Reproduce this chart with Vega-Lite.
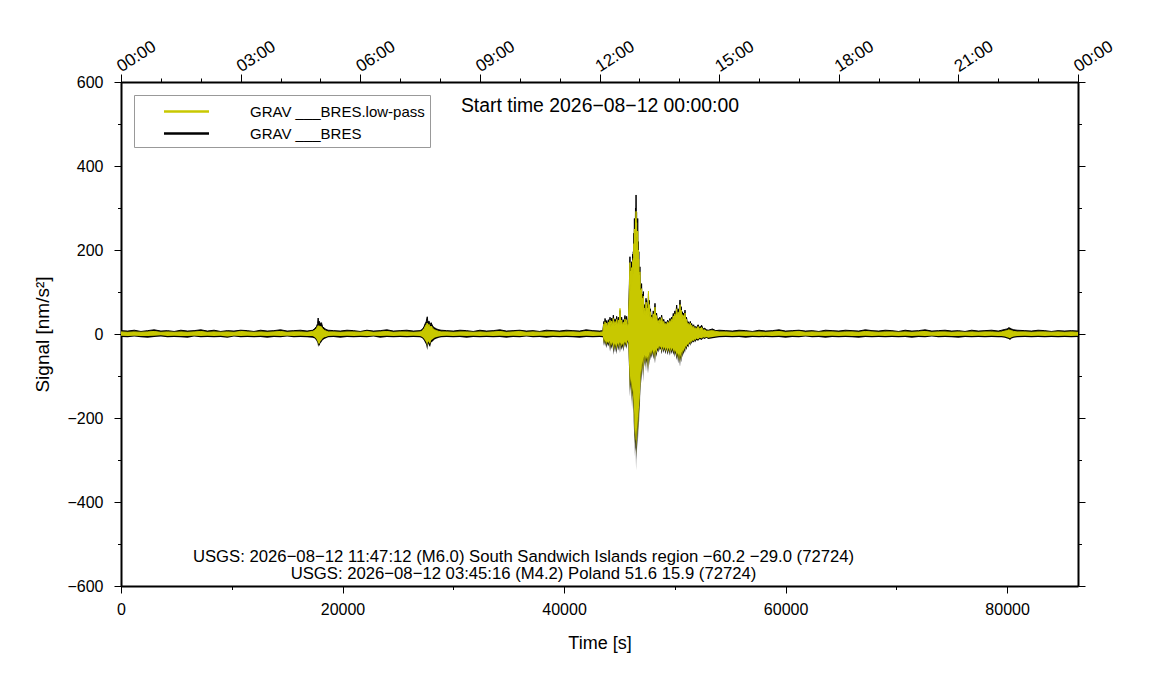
{
  "$schema": "https://vega.github.io/schema/vega-lite/v6.json",
  "width": 957,
  "height": 504,
  "autosize": {"type": "none"},
  "padding": {"left": 121, "top": 82, "right": 73, "bottom": 114},
  "data": {
    "values": [
      {"t": 0, "hi": 8, "lo": -7, "lphi": 5, "lplo": -4},
      {"t": 600, "hi": 7, "lo": -8, "lphi": 4, "lplo": -5},
      {"t": 1200, "hi": 9, "lo": -6, "lphi": 5, "lplo": -4},
      {"t": 1800, "hi": 6, "lo": -8, "lphi": 4, "lplo": -5},
      {"t": 2400, "hi": 8, "lo": -9, "lphi": 5, "lplo": -5},
      {"t": 3000, "hi": 10, "lo": -7, "lphi": 6, "lplo": -4},
      {"t": 3600, "hi": 7, "lo": -6, "lphi": 4, "lplo": -3},
      {"t": 4200, "hi": 8, "lo": -8, "lphi": 5, "lplo": -5},
      {"t": 4800, "hi": 6, "lo": -7, "lphi": 4, "lplo": -4},
      {"t": 5400, "hi": 9, "lo": -8, "lphi": 5, "lplo": -5},
      {"t": 6000, "hi": 7, "lo": -9, "lphi": 4, "lplo": -5},
      {"t": 6600, "hi": 8, "lo": -6, "lphi": 5, "lplo": -4},
      {"t": 7200, "hi": 10, "lo": -8, "lphi": 6, "lplo": -5},
      {"t": 7800, "hi": 7, "lo": -7, "lphi": 4, "lplo": -4},
      {"t": 8400, "hi": 9, "lo": -8, "lphi": 5, "lplo": -5},
      {"t": 9000, "hi": 6, "lo": -7, "lphi": 4, "lplo": -4},
      {"t": 9600, "hi": 8, "lo": -9, "lphi": 5, "lplo": -6},
      {"t": 10200, "hi": 7, "lo": -6, "lphi": 4, "lplo": -4},
      {"t": 10800, "hi": 9, "lo": -8, "lphi": 6, "lplo": -5},
      {"t": 11400, "hi": 8, "lo": -7, "lphi": 5, "lplo": -4},
      {"t": 12000, "hi": 6, "lo": -8, "lphi": 4, "lplo": -5},
      {"t": 12600, "hi": 9, "lo": -7, "lphi": 5, "lplo": -4},
      {"t": 13200, "hi": 7, "lo": -9, "lphi": 4, "lplo": -5},
      {"t": 13800, "hi": 8, "lo": -7, "lphi": 5, "lplo": -4},
      {"t": 14400, "hi": 10, "lo": -8, "lphi": 6, "lplo": -5},
      {"t": 15000, "hi": 7, "lo": -6, "lphi": 4, "lplo": -4},
      {"t": 15600, "hi": 8, "lo": -8, "lphi": 5, "lplo": -5},
      {"t": 16200, "hi": 9, "lo": -7, "lphi": 5, "lplo": -4},
      {"t": 16800, "hi": 7, "lo": -8, "lphi": 4, "lplo": -5},
      {"t": 17300, "hi": 9, "lo": -9, "lphi": 6, "lplo": -5},
      {"t": 17500, "hi": 13, "lo": -11, "lphi": 9, "lplo": -8},
      {"t": 17650, "hi": 18, "lo": -16, "lphi": 13, "lplo": -12},
      {"t": 17750, "hi": 25, "lo": -22, "lphi": 18, "lplo": -18},
      {"t": 17800, "hi": 38, "lo": -31, "lphi": 20, "lplo": -26},
      {"t": 17850, "hi": 22, "lo": -26, "lphi": 16, "lplo": -20},
      {"t": 17920, "hi": 30, "lo": -28, "lphi": 19, "lplo": -24},
      {"t": 18000, "hi": 24, "lo": -22, "lphi": 18, "lplo": -17},
      {"t": 18100, "hi": 27, "lo": -19, "lphi": 17, "lplo": -14},
      {"t": 18200, "hi": 17, "lo": -15, "lphi": 12, "lplo": -11},
      {"t": 18350, "hi": 14, "lo": -12, "lphi": 9, "lplo": -8},
      {"t": 18500, "hi": 11, "lo": -10, "lphi": 7, "lplo": -7},
      {"t": 18700, "hi": 9, "lo": -8, "lphi": 5, "lplo": -5},
      {"t": 19200, "hi": 8, "lo": -7, "lphi": 5, "lplo": -4},
      {"t": 19800, "hi": 7, "lo": -9, "lphi": 4, "lplo": -5},
      {"t": 20400, "hi": 9, "lo": -7, "lphi": 5, "lplo": -4},
      {"t": 21000, "hi": 8, "lo": -8, "lphi": 5, "lplo": -5},
      {"t": 21600, "hi": 6, "lo": -7, "lphi": 4, "lplo": -4},
      {"t": 22200, "hi": 9, "lo": -8, "lphi": 6, "lplo": -5},
      {"t": 22800, "hi": 7, "lo": -6, "lphi": 4, "lplo": -4},
      {"t": 23400, "hi": 8, "lo": -9, "lphi": 5, "lplo": -5},
      {"t": 24000, "hi": 10, "lo": -7, "lphi": 6, "lplo": -4},
      {"t": 24600, "hi": 7, "lo": -8, "lphi": 4, "lplo": -5},
      {"t": 25200, "hi": 8, "lo": -7, "lphi": 5, "lplo": -4},
      {"t": 25800, "hi": 9, "lo": -8, "lphi": 5, "lplo": -5},
      {"t": 26400, "hi": 7, "lo": -7, "lphi": 4, "lplo": -4},
      {"t": 27000, "hi": 8, "lo": -8, "lphi": 5, "lplo": -5},
      {"t": 27200, "hi": 11, "lo": -10, "lphi": 7, "lplo": -7},
      {"t": 27350, "hi": 17, "lo": -15, "lphi": 12, "lplo": -11},
      {"t": 27450, "hi": 24, "lo": -20, "lphi": 17, "lplo": -15},
      {"t": 27550, "hi": 29, "lo": -25, "lphi": 22, "lplo": -19},
      {"t": 27650, "hi": 41, "lo": -38, "lphi": 26, "lplo": -28},
      {"t": 27720, "hi": 24, "lo": -22, "lphi": 18, "lplo": -17},
      {"t": 27800, "hi": 31, "lo": -27, "lphi": 23, "lplo": -20},
      {"t": 27900, "hi": 22, "lo": -31, "lphi": 16, "lplo": -24},
      {"t": 28000, "hi": 27, "lo": -20, "lphi": 19, "lplo": -15},
      {"t": 28150, "hi": 18, "lo": -17, "lphi": 13, "lplo": -12},
      {"t": 28300, "hi": 15, "lo": -13, "lphi": 10, "lplo": -9},
      {"t": 28500, "hi": 12, "lo": -11, "lphi": 8, "lplo": -7},
      {"t": 28700, "hi": 10, "lo": -9, "lphi": 6, "lplo": -6},
      {"t": 28900, "hi": 9, "lo": -8, "lphi": 5, "lplo": -5},
      {"t": 29400, "hi": 8, "lo": -7, "lphi": 5, "lplo": -4},
      {"t": 30000, "hi": 7, "lo": -8, "lphi": 4, "lplo": -5},
      {"t": 30600, "hi": 9, "lo": -7, "lphi": 5, "lplo": -4},
      {"t": 31200, "hi": 8, "lo": -9, "lphi": 5, "lplo": -5},
      {"t": 31800, "hi": 6, "lo": -7, "lphi": 4, "lplo": -4},
      {"t": 32400, "hi": 9, "lo": -8, "lphi": 5, "lplo": -5},
      {"t": 33000, "hi": 7, "lo": -7, "lphi": 4, "lplo": -4},
      {"t": 33600, "hi": 8, "lo": -8, "lphi": 5, "lplo": -5},
      {"t": 34200, "hi": 10, "lo": -7, "lphi": 6, "lplo": -4},
      {"t": 34800, "hi": 7, "lo": -9, "lphi": 4, "lplo": -5},
      {"t": 35400, "hi": 8, "lo": -7, "lphi": 5, "lplo": -4},
      {"t": 36000, "hi": 9, "lo": -8, "lphi": 6, "lplo": -5},
      {"t": 36600, "hi": 7, "lo": -6, "lphi": 4, "lplo": -4},
      {"t": 37200, "hi": 8, "lo": -8, "lphi": 5, "lplo": -5},
      {"t": 37800, "hi": 6, "lo": -7, "lphi": 4, "lplo": -4},
      {"t": 38400, "hi": 9, "lo": -9, "lphi": 5, "lplo": -5},
      {"t": 39000, "hi": 8, "lo": -7, "lphi": 5, "lplo": -4},
      {"t": 39600, "hi": 7, "lo": -8, "lphi": 4, "lplo": -5},
      {"t": 40200, "hi": 9, "lo": -7, "lphi": 5, "lplo": -4},
      {"t": 40800, "hi": 8, "lo": -8, "lphi": 5, "lplo": -5},
      {"t": 41400, "hi": 7, "lo": -9, "lphi": 4, "lplo": -5},
      {"t": 42000, "hi": 10, "lo": -7, "lphi": 6, "lplo": -4},
      {"t": 42600, "hi": 8, "lo": -8, "lphi": 5, "lplo": -5},
      {"t": 43200, "hi": 7, "lo": -7, "lphi": 4, "lplo": -4},
      {"t": 43500, "hi": 8, "lo": -8, "lphi": 5, "lplo": -5},
      {"t": 43600, "hi": 30, "lo": -28, "lphi": 24, "lplo": -22},
      {"t": 43650, "hi": 18, "lo": -16, "lphi": 14, "lplo": -12},
      {"t": 43700, "hi": 37, "lo": -30, "lphi": 29, "lplo": -25},
      {"t": 43780, "hi": 22, "lo": -20, "lphi": 17, "lplo": -16},
      {"t": 43850, "hi": 32, "lo": -34, "lphi": 26, "lplo": -27},
      {"t": 43920, "hi": 20, "lo": -22, "lphi": 16, "lplo": -18},
      {"t": 44000, "hi": 34, "lo": -30, "lphi": 28, "lplo": -24},
      {"t": 44080, "hi": 24, "lo": -20, "lphi": 19, "lplo": -16},
      {"t": 44150, "hi": 40, "lo": -42, "lphi": 33, "lplo": -34},
      {"t": 44230, "hi": 22, "lo": -26, "lphi": 18, "lplo": -20},
      {"t": 44300, "hi": 38, "lo": -36, "lphi": 31, "lplo": -29},
      {"t": 44380, "hi": 26, "lo": -24, "lphi": 20, "lplo": -19},
      {"t": 44450, "hi": 45, "lo": -50, "lphi": 37, "lplo": -41},
      {"t": 44520, "hi": 24, "lo": -28, "lphi": 19, "lplo": -22},
      {"t": 44600, "hi": 36, "lo": -44, "lphi": 30, "lplo": -36},
      {"t": 44680, "hi": 26, "lo": -30, "lphi": 21, "lplo": -24},
      {"t": 44750, "hi": 42, "lo": -48, "lphi": 35, "lplo": -40},
      {"t": 44830, "hi": 24, "lo": -26, "lphi": 19, "lplo": -21},
      {"t": 44900, "hi": 40, "lo": -40, "lphi": 33, "lplo": -33},
      {"t": 44980, "hi": 28, "lo": -24, "lphi": 22, "lplo": -19},
      {"t": 45050, "hi": 56, "lo": -45, "lphi": 61, "lplo": -38},
      {"t": 45120, "hi": 26, "lo": -25, "lphi": 21, "lplo": -20},
      {"t": 45200, "hi": 40, "lo": -38, "lphi": 33, "lplo": -31},
      {"t": 45280, "hi": 24, "lo": -28, "lphi": 19, "lplo": -22},
      {"t": 45350, "hi": 34, "lo": -42, "lphi": 28, "lplo": -35},
      {"t": 45420, "hi": 28, "lo": -22, "lphi": 22, "lplo": -18},
      {"t": 45500, "hi": 44, "lo": -33, "lphi": 36, "lplo": -27},
      {"t": 45580, "hi": 26, "lo": -24, "lphi": 21, "lplo": -19},
      {"t": 45650, "hi": 42, "lo": -36, "lphi": 34, "lplo": -30},
      {"t": 45730, "hi": 20, "lo": -18, "lphi": 16, "lplo": -14},
      {"t": 45800, "hi": 30, "lo": -25, "lphi": 25, "lplo": -20},
      {"t": 45900, "hi": 120, "lo": -110, "lphi": 105, "lplo": -95},
      {"t": 45950, "hi": 184, "lo": -149, "lphi": 170, "lplo": -135},
      {"t": 45975, "hi": 130, "lo": -110, "lphi": 118, "lplo": -100},
      {"t": 46000, "hi": 160, "lo": -135, "lphi": 150, "lplo": -120},
      {"t": 46025, "hi": 110, "lo": -120, "lphi": 100, "lplo": -108},
      {"t": 46050, "hi": 150, "lo": -160, "lphi": 138, "lplo": -145},
      {"t": 46075, "hi": 120, "lo": -125, "lphi": 110, "lplo": -112},
      {"t": 46100, "hi": 172, "lo": -173, "lphi": 158, "lplo": -160},
      {"t": 46125, "hi": 125, "lo": -120, "lphi": 114, "lplo": -110},
      {"t": 46150, "hi": 150, "lo": -150, "lphi": 140, "lplo": -138},
      {"t": 46175, "hi": 135, "lo": -140, "lphi": 124, "lplo": -128},
      {"t": 46200, "hi": 190, "lo": -180, "lphi": 175, "lplo": -165},
      {"t": 46225, "hi": 150, "lo": -145, "lphi": 138, "lplo": -132},
      {"t": 46250, "hi": 196, "lo": -189, "lphi": 180, "lplo": -172},
      {"t": 46275, "hi": 170, "lo": -160, "lphi": 155, "lplo": -148},
      {"t": 46300, "hi": 240, "lo": -230, "lphi": 215, "lplo": -210},
      {"t": 46325, "hi": 200, "lo": -195, "lphi": 185, "lplo": -180},
      {"t": 46350, "hi": 275, "lo": -260, "lphi": 250, "lplo": -240},
      {"t": 46375, "hi": 215, "lo": -240, "lphi": 200, "lplo": -220},
      {"t": 46400, "hi": 250, "lo": -292, "lphi": 235, "lplo": -265},
      {"t": 46425, "hi": 230, "lo": -245, "lphi": 215, "lplo": -228},
      {"t": 46450, "hi": 300, "lo": -280, "lphi": 275, "lplo": -255},
      {"t": 46475, "hi": 260, "lo": -270, "lphi": 240, "lplo": -250},
      {"t": 46500, "hi": 331, "lo": -324, "lphi": 292, "lplo": -290},
      {"t": 46525, "hi": 250, "lo": -270, "lphi": 232, "lplo": -250},
      {"t": 46550, "hi": 290, "lo": -300, "lphi": 265, "lplo": -270},
      {"t": 46575, "hi": 220, "lo": -240, "lphi": 205, "lplo": -222},
      {"t": 46600, "hi": 240, "lo": -270, "lphi": 222, "lplo": -250},
      {"t": 46625, "hi": 205, "lo": -220, "lphi": 190, "lplo": -205},
      {"t": 46650, "hi": 275, "lo": -276, "lphi": 245, "lplo": -240},
      {"t": 46675, "hi": 190, "lo": -210, "lphi": 176, "lplo": -195},
      {"t": 46700, "hi": 220, "lo": -250, "lphi": 200, "lplo": -230},
      {"t": 46725, "hi": 160, "lo": -190, "lphi": 148, "lplo": -175},
      {"t": 46750, "hi": 196, "lo": -230, "lphi": 178, "lplo": -205},
      {"t": 46775, "hi": 140, "lo": -165, "lphi": 130, "lplo": -152},
      {"t": 46800, "hi": 150, "lo": -213, "lphi": 140, "lplo": -190},
      {"t": 46825, "hi": 120, "lo": -150, "lphi": 110, "lplo": -138},
      {"t": 46850, "hi": 160, "lo": -190, "lphi": 148, "lplo": -170},
      {"t": 46875, "hi": 100, "lo": -120, "lphi": 92, "lplo": -110},
      {"t": 46900, "hi": 117, "lo": -150, "lphi": 105, "lplo": -135},
      {"t": 46925, "hi": 85, "lo": -95, "lphi": 78, "lplo": -87},
      {"t": 46950, "hi": 110, "lo": -117, "lphi": 98, "lplo": -105},
      {"t": 46975, "hi": 80, "lo": -90, "lphi": 72, "lplo": -82},
      {"t": 47000, "hi": 120, "lo": -117, "lphi": 108, "lplo": -100},
      {"t": 47040, "hi": 70, "lo": -75, "lphi": 62, "lplo": -66},
      {"t": 47080, "hi": 95, "lo": -100, "lphi": 85, "lplo": -90},
      {"t": 47120, "hi": 65, "lo": -70, "lphi": 57, "lplo": -62},
      {"t": 47160, "hi": 101, "lo": -115, "lphi": 90, "lplo": -98},
      {"t": 47200, "hi": 55, "lo": -60, "lphi": 48, "lplo": -53},
      {"t": 47240, "hi": 70, "lo": -78, "lphi": 62, "lplo": -70},
      {"t": 47280, "hi": 50, "lo": -55, "lphi": 44, "lplo": -48},
      {"t": 47310, "hi": 61, "lo": -80, "lphi": 55, "lplo": -70},
      {"t": 47350, "hi": 48, "lo": -58, "lphi": 42, "lplo": -51},
      {"t": 47400, "hi": 85, "lo": -90, "lphi": 76, "lplo": -80},
      {"t": 47430, "hi": 55, "lo": -60, "lphi": 48, "lplo": -52},
      {"t": 47460, "hi": 80, "lo": -70, "lphi": 72, "lplo": -62},
      {"t": 47500, "hi": 50, "lo": -62, "lphi": 44, "lplo": -54},
      {"t": 47550, "hi": 70, "lo": -94, "lphi": 62, "lplo": -82},
      {"t": 47580, "hi": 52, "lo": -58, "lphi": 46, "lplo": -51},
      {"t": 47620, "hi": 96, "lo": -94, "lphi": 102, "lplo": -84},
      {"t": 47660, "hi": 55, "lo": -56, "lphi": 48, "lplo": -49},
      {"t": 47700, "hi": 80, "lo": -75, "lphi": 70, "lplo": -66},
      {"t": 47750, "hi": 45, "lo": -48, "lphi": 40, "lplo": -42},
      {"t": 47800, "hi": 60, "lo": -63, "lphi": 53, "lplo": -56},
      {"t": 47850, "hi": 40, "lo": -45, "lphi": 35, "lplo": -40},
      {"t": 47910, "hi": 45, "lo": -58, "lphi": 40, "lplo": -52},
      {"t": 47980, "hi": 35, "lo": -42, "lphi": 31, "lplo": -37},
      {"t": 48050, "hi": 55, "lo": -60, "lphi": 48, "lplo": -53},
      {"t": 48130, "hi": 40, "lo": -45, "lphi": 35, "lplo": -40},
      {"t": 48210, "hi": 73, "lo": -70, "lphi": 64, "lplo": -62},
      {"t": 48280, "hi": 38, "lo": -42, "lphi": 33, "lplo": -37},
      {"t": 48350, "hi": 50, "lo": -55, "lphi": 44, "lplo": -48},
      {"t": 48430, "hi": 32, "lo": -38, "lphi": 28, "lplo": -33},
      {"t": 48510, "hi": 37, "lo": -44, "lphi": 32, "lplo": -38},
      {"t": 48580, "hi": 28, "lo": -32, "lphi": 25, "lplo": -28},
      {"t": 48650, "hi": 40, "lo": -40, "lphi": 35, "lplo": -35},
      {"t": 48730, "hi": 30, "lo": -34, "lphi": 26, "lplo": -30},
      {"t": 48810, "hi": 45, "lo": -48, "lphi": 39, "lplo": -42},
      {"t": 48900, "hi": 28, "lo": -34, "lphi": 25, "lplo": -30},
      {"t": 49000, "hi": 35, "lo": -45, "lphi": 30, "lplo": -40},
      {"t": 49080, "hi": 24, "lo": -36, "lphi": 21, "lplo": -31},
      {"t": 49170, "hi": 29, "lo": -48, "lphi": 25, "lplo": -42},
      {"t": 49260, "hi": 25, "lo": -36, "lphi": 22, "lplo": -32},
      {"t": 49350, "hi": 33, "lo": -50, "lphi": 29, "lplo": -44},
      {"t": 49450, "hi": 27, "lo": -38, "lphi": 24, "lplo": -33},
      {"t": 49560, "hi": 37, "lo": -52, "lphi": 32, "lplo": -46},
      {"t": 49630, "hi": 30, "lo": -36, "lphi": 26, "lplo": -32},
      {"t": 49700, "hi": 40, "lo": -48, "lphi": 35, "lplo": -42},
      {"t": 49780, "hi": 34, "lo": -38, "lphi": 30, "lplo": -33},
      {"t": 49860, "hi": 49, "lo": -50, "lphi": 43, "lplo": -44},
      {"t": 49930, "hi": 38, "lo": -42, "lphi": 33, "lplo": -37},
      {"t": 50000, "hi": 55, "lo": -55, "lphi": 48, "lplo": -48},
      {"t": 50080, "hi": 45, "lo": -44, "lphi": 40, "lplo": -39},
      {"t": 50170, "hi": 69, "lo": -62, "lphi": 60, "lplo": -55},
      {"t": 50230, "hi": 48, "lo": -50, "lphi": 42, "lplo": -44},
      {"t": 50300, "hi": 60, "lo": -70, "lphi": 52, "lplo": -62},
      {"t": 50380, "hi": 50, "lo": -52, "lphi": 44, "lplo": -46},
      {"t": 50470, "hi": 81, "lo": -78, "lphi": 70, "lplo": -68},
      {"t": 50520, "hi": 55, "lo": -55, "lphi": 48, "lplo": -48},
      {"t": 50580, "hi": 65, "lo": -68, "lphi": 57, "lplo": -60},
      {"t": 50630, "hi": 45, "lo": -48, "lphi": 40, "lplo": -42},
      {"t": 50680, "hi": 53, "lo": -56, "lphi": 46, "lplo": -49},
      {"t": 50740, "hi": 40, "lo": -42, "lphi": 35, "lplo": -37},
      {"t": 50800, "hi": 50, "lo": -50, "lphi": 44, "lplo": -44},
      {"t": 50860, "hi": 42, "lo": -38, "lphi": 37, "lplo": -33},
      {"t": 50920, "hi": 57, "lo": -45, "lphi": 50, "lplo": -39},
      {"t": 50980, "hi": 35, "lo": -32, "lphi": 30, "lplo": -28},
      {"t": 51050, "hi": 40, "lo": -38, "lphi": 35, "lplo": -33},
      {"t": 51130, "hi": 28, "lo": -28, "lphi": 24, "lplo": -24},
      {"t": 51220, "hi": 29, "lo": -32, "lphi": 25, "lplo": -28},
      {"t": 51300, "hi": 22, "lo": -22, "lphi": 19, "lplo": -19},
      {"t": 51400, "hi": 30, "lo": -28, "lphi": 26, "lplo": -24},
      {"t": 51460, "hi": 20, "lo": -19, "lphi": 17, "lplo": -16},
      {"t": 51520, "hi": 25, "lo": -24, "lphi": 21, "lplo": -20},
      {"t": 51600, "hi": 18, "lo": -18, "lphi": 15, "lplo": -15},
      {"t": 51700, "hi": 22, "lo": -20, "lphi": 18, "lplo": -17},
      {"t": 51760, "hi": 16, "lo": -15, "lphi": 13, "lplo": -12},
      {"t": 51820, "hi": 18, "lo": -20, "lphi": 15, "lplo": -16},
      {"t": 51950, "hi": 15, "lo": -14, "lphi": 12, "lplo": -11},
      {"t": 52100, "hi": 22, "lo": -16, "lphi": 18, "lplo": -13},
      {"t": 52250, "hi": 14, "lo": -12, "lphi": 11, "lplo": -9},
      {"t": 52420, "hi": 21, "lo": -14, "lphi": 16, "lplo": -11},
      {"t": 52550, "hi": 12, "lo": -10, "lphi": 9, "lplo": -8},
      {"t": 52700, "hi": 14, "lo": -12, "lphi": 10, "lplo": -9},
      {"t": 52850, "hi": 10, "lo": -9, "lphi": 7, "lplo": -7},
      {"t": 53020, "hi": 9, "lo": -12, "lphi": 7, "lplo": -9},
      {"t": 53400, "hi": 12, "lo": -10, "lphi": 8, "lplo": -7},
      {"t": 53700, "hi": 8, "lo": -9, "lphi": 6, "lplo": -6},
      {"t": 54000, "hi": 9, "lo": -8, "lphi": 5, "lplo": -5},
      {"t": 54600, "hi": 8, "lo": -7, "lphi": 5, "lplo": -4},
      {"t": 55200, "hi": 7, "lo": -8, "lphi": 4, "lplo": -5},
      {"t": 55800, "hi": 9, "lo": -7, "lphi": 5, "lplo": -4},
      {"t": 56400, "hi": 8, "lo": -9, "lphi": 5, "lplo": -5},
      {"t": 57000, "hi": 6, "lo": -7, "lphi": 4, "lplo": -4},
      {"t": 57600, "hi": 9, "lo": -8, "lphi": 5, "lplo": -5},
      {"t": 58200, "hi": 7, "lo": -7, "lphi": 4, "lplo": -4},
      {"t": 58800, "hi": 8, "lo": -8, "lphi": 5, "lplo": -5},
      {"t": 59400, "hi": 10, "lo": -7, "lphi": 6, "lplo": -4},
      {"t": 60000, "hi": 7, "lo": -9, "lphi": 4, "lplo": -5},
      {"t": 60600, "hi": 8, "lo": -7, "lphi": 5, "lplo": -4},
      {"t": 61200, "hi": 9, "lo": -8, "lphi": 6, "lplo": -5},
      {"t": 61800, "hi": 7, "lo": -6, "lphi": 4, "lplo": -4},
      {"t": 62400, "hi": 8, "lo": -8, "lphi": 5, "lplo": -5},
      {"t": 63000, "hi": 6, "lo": -7, "lphi": 4, "lplo": -4},
      {"t": 63600, "hi": 9, "lo": -9, "lphi": 5, "lplo": -5},
      {"t": 64200, "hi": 8, "lo": -7, "lphi": 5, "lplo": -4},
      {"t": 64800, "hi": 7, "lo": -8, "lphi": 4, "lplo": -5},
      {"t": 65400, "hi": 9, "lo": -7, "lphi": 5, "lplo": -4},
      {"t": 66000, "hi": 8, "lo": -8, "lphi": 5, "lplo": -5},
      {"t": 66600, "hi": 7, "lo": -9, "lphi": 4, "lplo": -5},
      {"t": 67200, "hi": 10, "lo": -7, "lphi": 6, "lplo": -4},
      {"t": 67800, "hi": 8, "lo": -8, "lphi": 5, "lplo": -5},
      {"t": 68400, "hi": 7, "lo": -7, "lphi": 4, "lplo": -4},
      {"t": 69000, "hi": 9, "lo": -8, "lphi": 5, "lplo": -5},
      {"t": 69600, "hi": 8, "lo": -7, "lphi": 5, "lplo": -4},
      {"t": 70200, "hi": 6, "lo": -8, "lphi": 4, "lplo": -5},
      {"t": 70800, "hi": 9, "lo": -7, "lphi": 5, "lplo": -4},
      {"t": 71400, "hi": 7, "lo": -9, "lphi": 4, "lplo": -5},
      {"t": 72000, "hi": 8, "lo": -7, "lphi": 5, "lplo": -4},
      {"t": 72600, "hi": 10, "lo": -8, "lphi": 6, "lplo": -5},
      {"t": 73200, "hi": 7, "lo": -6, "lphi": 4, "lplo": -4},
      {"t": 73800, "hi": 8, "lo": -8, "lphi": 5, "lplo": -5},
      {"t": 74400, "hi": 9, "lo": -7, "lphi": 5, "lplo": -4},
      {"t": 75000, "hi": 7, "lo": -8, "lphi": 4, "lplo": -5},
      {"t": 75600, "hi": 8, "lo": -9, "lphi": 5, "lplo": -5},
      {"t": 76200, "hi": 6, "lo": -7, "lphi": 4, "lplo": -4},
      {"t": 76800, "hi": 9, "lo": -8, "lphi": 5, "lplo": -5},
      {"t": 77400, "hi": 7, "lo": -7, "lphi": 4, "lplo": -4},
      {"t": 78000, "hi": 8, "lo": -8, "lphi": 5, "lplo": -5},
      {"t": 78600, "hi": 9, "lo": -7, "lphi": 5, "lplo": -4},
      {"t": 79200, "hi": 7, "lo": -8, "lphi": 4, "lplo": -5},
      {"t": 79500, "hi": 9, "lo": -8, "lphi": 5, "lplo": -5},
      {"t": 79800, "hi": 11, "lo": -9, "lphi": 7, "lplo": -6},
      {"t": 80000, "hi": 12, "lo": -11, "lphi": 8, "lplo": -8},
      {"t": 80150, "hi": 15, "lo": -12, "lphi": 10, "lplo": -9},
      {"t": 80260, "hi": 14, "lo": -14, "lphi": 9, "lplo": -10},
      {"t": 80400, "hi": 12, "lo": -11, "lphi": 8, "lplo": -8},
      {"t": 80600, "hi": 10, "lo": -9, "lphi": 6, "lplo": -6},
      {"t": 80900, "hi": 9, "lo": -8, "lphi": 5, "lplo": -5},
      {"t": 81600, "hi": 8, "lo": -7, "lphi": 5, "lplo": -4},
      {"t": 82200, "hi": 7, "lo": -8, "lphi": 4, "lplo": -5},
      {"t": 82800, "hi": 9, "lo": -7, "lphi": 5, "lplo": -4},
      {"t": 83400, "hi": 8, "lo": -8, "lphi": 5, "lplo": -5},
      {"t": 84000, "hi": 6, "lo": -7, "lphi": 4, "lplo": -4},
      {"t": 84600, "hi": 8, "lo": -8, "lphi": 5, "lplo": -5},
      {"t": 85200, "hi": 7, "lo": -7, "lphi": 4, "lplo": -4},
      {"t": 85800, "hi": 8, "lo": -8, "lphi": 5, "lplo": -5},
      {"t": 86400, "hi": 7, "lo": -7, "lphi": 4, "lplo": -4}
    ]
  },
  "resolve": {"axis": {"x": "independent", "y": "independent"}},
  "layer": [
    {
      "mark": {"type": "area", "color": "#000000", "opacity": 1},
      "encoding": {
        "x": {
          "field": "t", "type": "quantitative",
          "scale": {"domain": [0, 86400], "nice": false, "zero": false},
          "axis": {
            "orient": "bottom", "values": [0, 20000, 40000, 60000, 80000], "format": "d",
            "tickSize": 7, "domainWidth": 2, "labelPadding": 8,
            "labelFlush": false, "labelOverlap": false,
            "title": "Time [s]", "titlePadding": 17
          }
        },
        "y": {
          "field": "lo", "type": "quantitative",
          "scale": {"domain": [-600, 600], "nice": false, "zero": false},
          "axis": {
            "orient": "left", "values": [-600, -400, -200, 0, 200, 400, 600],
            "tickSize": 7, "domainWidth": 2, "labelPadding": 11,
            "labelOverlap": false, "labelFlush": false,
            "title": "Signal [nm/s²]", "titlePadding": 14, "titleFontSize": 19
          }
        },
        "y2": {"field": "hi"}
      }
    },
    {
      "mark": {"type": "line", "strokeWidth": 1},
      "encoding": {
        "x": {"field": "t", "type": "quantitative", "scale": {"domain": [0, 86400], "nice": false, "zero": false}, "axis": null},
        "y": {"field": "hi", "type": "quantitative", "scale": {"domain": [-600, 600], "nice": false, "zero": false}, "axis": null},
        "color": {
          "datum": "GRAV ___BRES",
          "scale": {"domain": ["GRAV ___BRES.low-pass", "GRAV ___BRES"], "range": ["#c8c800", "#000000"]},
          "legend": {
            "title": null, "orient": "top-left", "offset": 13, "padding": 5,
            "fillColor": "#ffffff", "strokeColor": "#999999",
            "labelFontSize": 15, "labelColor": "#000000", "labelLimit": 0,
            "symbolType": "M-2.25,0L2.25,0", "symbolSize": 400, "symbolStrokeWidth": 2.5,
            "symbolOffset": 36, "labelOffset": 52, "rowPadding": 2
          }
        }
      }
    },
    {
      "mark": {"type": "area", "color": "#c8c800", "opacity": 1},
      "encoding": {
        "x": {
          "field": "t", "type": "quantitative",
          "scale": {"domain": [0, 86400], "nice": false, "zero": false},
          "axis": {
            "orient": "bottom", "values": [0, 10000, 20000, 30000, 40000, 50000, 60000, 70000, 80000],
            "tickSize": 3.5, "labels": false, "domain": false, "title": null
          }
        },
        "y": {
          "field": "lplo", "type": "quantitative",
          "scale": {"domain": [-600, 600], "nice": false, "zero": false},
          "axis": {
            "orient": "left", "values": [-600, -500, -400, -300, -200, -100, 0, 100, 200, 300, 400, 500, 600],
            "tickSize": 3.5, "labels": false, "domain": false, "title": null
          }
        },
        "y2": {"field": "lphi"}
      }
    },
    {
      "mark": {"type": "line", "strokeWidth": 1},
      "encoding": {
        "x": {"field": "t", "type": "quantitative", "scale": {"domain": [0, 86400], "nice": false, "zero": false}, "axis": null},
        "y": {"field": "lphi", "type": "quantitative", "scale": {"domain": [-600, 600], "nice": false, "zero": false}, "axis": null},
        "color": {
          "datum": "GRAV ___BRES.low-pass",
          "scale": {"domain": ["GRAV ___BRES.low-pass", "GRAV ___BRES"], "range": ["#c8c800", "#000000"]}
        }
      }
    },
    {
      "data": {
        "values": [
          {"t": 36340, "y": -542, "label": "USGS: 2026−08−12 11:47:12 (M6.0) South Sandwich Islands region −60.2 −29.0 (72724)"},
          {"t": 36340, "y": -584, "label": "USGS: 2026−08−12 03:45:16 (M4.2) Poland 51.6 15.9 (72724)"}
        ]
      },
      "mark": {"type": "text", "fontSize": 16.7, "align": "center", "baseline": "alphabetic", "color": "#000000"},
      "encoding": {
        "x": {
          "field": "t", "type": "quantitative",
          "scale": {"domain": [0, 86400], "nice": false, "zero": false},
          "axis": {
            "orient": "top", "values": [0, 10800, 21600, 32400, 43200, 54000, 64800, 75600, 86400],
            "tickSize": 8, "domainWidth": 2, "labelPadding": 2, "labelFontSize": 17,
            "labelAngle": -33, "labelAlign": "left", "labelBaseline": "alphabetic",
            "labelFlush": false, "labelOverlap": false,
            "labelExpr": "(floor(datum.value / 3600) % 24 < 10 ? '0' : '') + (floor(datum.value / 3600) % 24) + ':00'",
            "title": null
          }
        },
        "y": {
          "field": "y", "type": "quantitative",
          "scale": {"domain": [-600, 600], "nice": false, "zero": false},
          "axis": {
            "orient": "right", "values": [-600, -400, -200, 0, 200, 400, 600],
            "tickSize": 7, "domainWidth": 2, "labels": false, "title": null
          }
        },
        "text": {"field": "label"}
      }
    },
    {
      "data": {"values": [{"t": 43245, "y": 529, "label": "Start time 2026−08−12 00:00:00"}]},
      "mark": {"type": "text", "fontSize": 19.4, "align": "center", "baseline": "alphabetic", "color": "#000000"},
      "encoding": {
        "x": {
          "field": "t", "type": "quantitative",
          "scale": {"domain": [0, 86400], "nice": false, "zero": false},
          "axis": {
            "orient": "top",
            "values": [0, 3600, 7200, 10800, 14400, 18000, 21600, 25200, 28800, 32400, 36000, 39600, 43200, 46800, 50400, 54000, 57600, 61200, 64800, 68400, 72000, 75600, 79200, 82800, 86400],
            "tickSize": 4, "labels": false, "domain": false, "title": null
          }
        },
        "y": {
          "field": "y", "type": "quantitative",
          "scale": {"domain": [-600, 600], "nice": false, "zero": false},
          "axis": {
            "orient": "right", "values": [-600, -500, -400, -300, -200, -100, 0, 100, 200, 300, 400, 500, 600],
            "tickSize": 3.5, "labels": false, "domain": false, "title": null
          }
        },
        "text": {"field": "label"}
      }
    }
  ],
  "config": {
    "font": "Liberation Sans",
    "view": {"stroke": null},
    "legend": {"strokeWidth": 1},
    "axis": {
      "grid": false,
      "labelFontSize": 16, "labelColor": "#000000",
      "tickColor": "#000000", "tickWidth": 1,
      "domainColor": "#000000",
      "titleFontSize": 18, "titleFontWeight": "normal", "titleColor": "#000000"
    }
  }
}
